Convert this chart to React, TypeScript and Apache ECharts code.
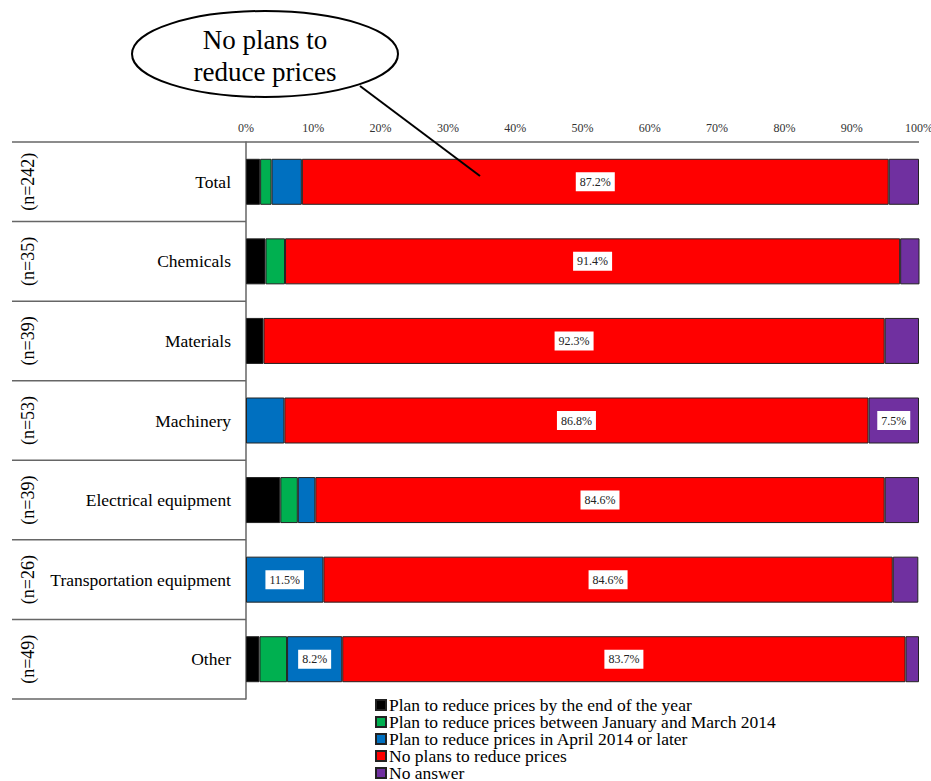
import { useEffect, useRef } from "react";
import * as echarts from "echarts";

// Survey: price-reduction plans by industry (share of respondents, %)
const categories = [
  "Total",
  "Chemicals",
  "Materials",
  "Machinery",
  "Electrical equipment",
  "Transportation equipment",
  "Other",
];
const sampleSizes = ["(n=242)", "(n=35)", "(n=39)", "(n=53)", "(n=39)", "(n=26)", "(n=49)"];

const seriesNames = [
  "Plan to reduce prices by the end of the year",
  "Plan to reduce prices between January and March 2014",
  "Plan to reduce prices in April 2014 or later",
  "No plans to reduce prices",
  "No answer",
];
const byEndOfYear = [2.1, 2.9, 2.6, 0, 5.1, 0, 2.0];
const janToMar2014 = [1.7, 2.9, 0, 0, 2.6, 0, 4.1];
const aprilOrLater = [4.5, 0, 0, 5.7, 2.6, 11.5, 8.2];
const noPlans = [87.2, 91.4, 92.3, 86.8, 84.6, 84.6, 83.7];
const noAnswer = [4.5, 2.9, 5.1, 7.5, 5.1, 3.8, 2.0];

const seriesColors = ["#000000", "#00B050", "#0070C0", "#FF0000", "#7030A0"];
const xTicks = [0, 10, 20, 30, 40, 50, 60, 70, 80, 90, 100];

const calloutLines = ["No plans to", "reduce prices"];

const SERIF = "Liberation Serif, serif";
const GRID_LEFT = 246;
const GRID_RIGHT_X = 919;
const GRID_TOP = 142;
const GRID_BOTTOM_Y = 699;
const TABLE_LEFT = 12;
const LINE_COLOR = "#666666";

export default function App() {
  const ref = useRef<HTMLDivElement>(null);

  useEffect(() => {
    if (!ref.current) return;
    document.body.style.margin = "0";
    document.body.style.overflow = "hidden";
    const chart = echarts.init(ref.current, undefined, { renderer: "svg" });

    const allValues = [byEndOfYear, janToMar2014, aprilOrLater, noPlans, noAnswer];

    const series = allValues.map((vals, i) => ({
      name: seriesNames[i],
      type: "bar" as const,
      stack: "total",
      barWidth: 46,
      itemStyle: { color: seriesColors[i], borderColor: "#222222", borderWidth: 1 },
      label: {
        show: false,
        position: "inside" as const,
        formatter: (p: any) => `${Number(p.value).toFixed(1)}%`,
        fontFamily: SERIF,
        fontSize: 12,
        color: "#222222",
        backgroundColor: "#ffffff",
        padding: [4, 4, 3, 4],
      },
      data: vals.map((v) =>
        v === 0 ? "-" : { value: v, label: { show: v >= 7 } }
      ),
    }));

    chart.setOption({
      animation: false,
      grid: {
        left: GRID_LEFT,
        right: 931 - GRID_RIGHT_X,
        top: GRID_TOP,
        bottom: 781 - GRID_BOTTOM_Y,
        containLabel: false,
        outerBoundsMode: "none",
      },
      xAxis: {
        type: "value",
        position: "top",
        min: 0,
        max: 100,
        interval: 10,
        axisLine: { show: false },
        axisTick: { show: false },
        splitLine: { show: false },
        axisLabel: {
          formatter: (v: number) => (xTicks.includes(v) ? `${v}%` : ""),
          fontFamily: SERIF,
          fontSize: 12,
          color: "#333333",
          margin: 8,
        },
      },
      yAxis: {
        type: "category",
        data: categories,
        inverse: true,
        axisLine: { show: true, lineStyle: { color: LINE_COLOR, width: 1.5 } },
        axisTick: { show: false },
        splitLine: { show: false },
        axisLabel: {
          fontFamily: SERIF,
          fontSize: 17.5,
          color: "#000000",
          margin: 15,
        },
      },
      legend: {
        orient: "vertical",
        left: 375,
        top: 696,
        height: 120,
        padding: 0,
        itemWidth: 10,
        itemHeight: 10,
        itemGap: -1,
        icon: "rect",
        textStyle: {
          fontFamily: SERIF,
          fontSize: 17.5,
          color: "#000000",
          lineHeight: 15,
          padding: [0, 0, 0, -2],
        },
        data: seriesNames,
      },
      series,
    });

    // Table rules, sample-size labels and the callout
    const band = (GRID_BOTTOM_Y - GRID_TOP) / categories.length;
    const graphics: any[] = [];
    graphics.push({
      type: "line",
      shape: { x1: TABLE_LEFT, y1: GRID_TOP, x2: GRID_RIGHT_X, y2: GRID_TOP },
      style: { stroke: LINE_COLOR, lineWidth: 1.5 },
      z: 10,
    });
    for (let k = 1; k <= categories.length; k++) {
      const y = GRID_TOP + band * k;
      graphics.push({
        type: "line",
        shape: { x1: TABLE_LEFT, y1: y, x2: GRID_LEFT, y2: y },
        style: { stroke: LINE_COLOR, lineWidth: 1.5 },
        z: 10,
      });
    }
    categories.forEach((c, i) => {
      const y = chart.convertToPixel({ yAxisIndex: 0 }, c) as number;
      graphics.push({
        type: "text",
        x: 28,
        y,
        rotation: Math.PI / 2,
        style: {
          text: sampleSizes[i],
          fontFamily: SERIF,
          fontSize: 18,
          fill: "#000000",
          align: "center",
          verticalAlign: "middle",
        },
        z: 10,
      });
    });
    graphics.push({
      type: "line",
      shape: { x1: 360, y1: 86, x2: 480, y2: 176 },
      style: { stroke: "#000000", lineWidth: 2 },
      z: 20,
    });
    graphics.push({
      type: "ellipse",
      shape: { cx: 265, cy: 54, rx: 133, ry: 43 },
      style: { fill: "#ffffff", stroke: "#000000", lineWidth: 2 },
      z: 21,
    });
    calloutLines.forEach((t, i) => {
      graphics.push({
        type: "text",
        x: 265,
        y: 40 + i * 32,
        style: {
          text: t,
          fontFamily: SERIF,
          fontSize: 27,
          fill: "#000000",
          align: "center",
          verticalAlign: "middle",
        },
        z: 22,
      });
    });
    chart.setOption({ graphic: graphics });

    return () => chart.dispose();
  }, []);

  return (
    <div
      ref={ref}
      style={{ position: "absolute", left: 0, top: 0, width: 931, height: 781 }}
    />
  );
}
